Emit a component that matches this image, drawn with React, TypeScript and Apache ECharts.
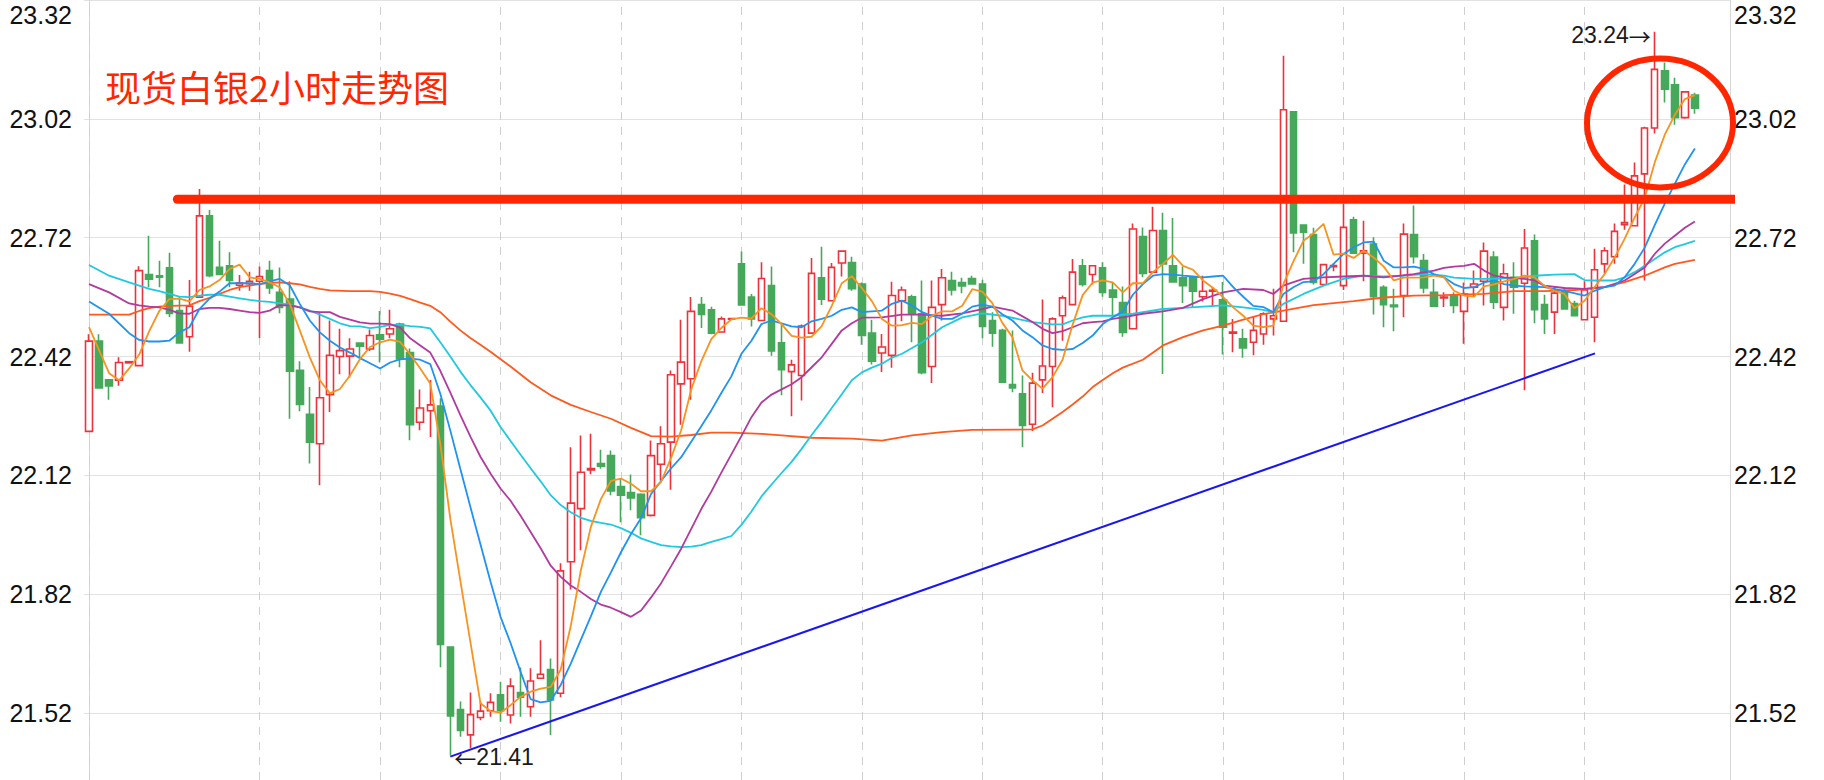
import React, { useEffect, useRef } from "react";
import * as echarts from "echarts";

// ---------- data ----------
const SLOTS = 164; // category slots on the x axis (last 3 empty)
const opens = [
  22.231, 22.459, 22.361, 22.36, 22.404, 22.397, 22.627, 22.624, 22.644, 22.536,
  22.47, 22.57, 22.775, 22.645, 22.649, 22.6, 22.604, 22.61, 22.637, 22.582,
  22.565, 22.385, 22.274, 22.2, 22.324, 22.42, 22.421, 22.454, 22.439, 22.475,
  22.477, 22.502, 22.43, 22.254, 22.283, 22.295, 21.687, 21.529, 21.465, 21.509,
  21.526, 21.566, 21.515, 21.572, 21.536, 21.608, 21.63, 21.57, 21.902, 22.036,
  22.134, 22.15, 22.17, 22.092, 22.077, 22.072, 22.019, 22.148, 22.204, 22.351,
  22.364, 22.551, 22.538, 22.482, 22.514, 22.654, 22.57, 22.511, 22.599, 22.455,
  22.382, 22.372, 22.479, 22.619, 22.561, 22.656, 22.657, 22.603, 22.479, 22.429,
  22.423, 22.561, 22.571, 22.528, 22.395, 22.551, 22.612, 22.607, 22.617, 22.603,
  22.511, 22.486, 22.349, 22.326, 22.249, 22.361, 22.395, 22.523, 22.551, 22.649,
  22.627, 22.644, 22.588, 22.556, 22.49, 22.723, 22.633, 22.738, 22.649, 22.619,
  22.62, 22.571, 22.585, 22.563, 22.479, 22.465, 22.456, 22.477, 22.515, 22.509,
  23.038, 22.752, 22.728, 22.602, 22.647, 22.599, 22.765, 22.681, 22.704, 22.595,
  22.55, 22.574, 22.728, 22.662, 22.582, 22.568, 22.576, 22.534, 22.595, 22.61,
  22.671, 22.544, 22.62, 22.605, 22.712, 22.551, 22.532, 22.586, 22.554, 22.513,
  22.519, 22.654, 22.672, 22.753, 22.75, 22.881, 22.997, 23.141, 23.106, 23.023,
  23.08,
];
const closes = [
  22.459, 22.341, 22.346, 22.405, 22.407, 22.637, 22.615, 22.62, 22.529, 22.454,
  22.547, 22.775, 22.624, 22.627, 22.612, 22.606, 22.61, 22.622, 22.593, 22.544,
  22.383, 22.299, 22.204, 22.316, 22.423, 22.435, 22.439, 22.446, 22.473, 22.464,
  22.49, 22.414, 22.248, 22.29, 22.298, 21.693, 21.513, 21.476, 21.516, 21.525,
  21.547, 21.526, 21.588, 21.56, 21.601, 21.618, 21.553, 21.879, 22.05, 22.128,
  22.137, 22.143, 22.081, 22.07, 22.063, 22.013, 22.17, 22.2, 22.374, 22.406,
  22.534, 22.526, 22.479, 22.515, 22.516, 22.55, 22.515, 22.617, 22.434, 22.387,
  22.399, 22.497, 22.63, 22.565, 22.645, 22.686, 22.591, 22.473, 22.408, 22.444,
  22.574, 22.588, 22.528, 22.379, 22.544, 22.619, 22.588, 22.598, 22.603, 22.496,
  22.479, 22.355, 22.341, 22.246, 22.353, 22.396, 22.515, 22.568, 22.633, 22.602,
  22.649, 22.582, 22.57, 22.481, 22.742, 22.63, 22.738, 22.654, 22.608, 22.599,
  22.585, 22.585, 22.587, 22.494, 22.482, 22.442, 22.486, 22.528, 22.523, 23.043,
  22.732, 22.734, 22.607, 22.652, 22.65, 22.746, 22.681, 22.687, 22.571, 22.551,
  22.546, 22.729, 22.672, 22.593, 22.547, 22.57, 22.549, 22.578, 22.603, 22.686,
  22.557, 22.629, 22.595, 22.694, 22.538, 22.515, 22.58, 22.54, 22.523, 22.588,
  22.639, 22.687, 22.736, 22.758, 22.876, 22.997, 23.145, 23.095, 23.023, 23.088,
  23.047,
];
const lows = [
  22.231, 22.341, 22.311, 22.346, 22.404, 22.397, 22.595, 22.595, 22.52, 22.454,
  22.432, 22.57, 22.62, 22.627, 22.595, 22.586, 22.586, 22.467, 22.578, 22.529,
  22.263, 22.282, 22.15, 22.095, 22.28, 22.375, 22.367, 22.416, 22.434, 22.405,
  22.466, 22.393, 22.209, 22.234, 22.217, 21.636, 21.413, 21.46, 21.431, 21.502,
  21.511, 21.498, 21.494, 21.511, 21.511, 21.606, 21.465, 21.56, 21.832, 21.931,
  22.123, 22.137, 22.07, 22.002, 22.032, 21.969, 22.016, 22.107, 22.084, 22.248,
  22.311, 22.492, 22.476, 22.48, 22.512, 22.55, 22.496, 22.511, 22.422, 22.322,
  22.269, 22.309, 22.479, 22.55, 22.561, 22.622, 22.586, 22.45, 22.4, 22.381,
  22.392, 22.509, 22.456, 22.375, 22.353, 22.511, 22.574, 22.58, 22.601, 22.466,
  22.445, 22.353, 22.33, 22.191, 22.232, 22.328, 22.292, 22.46, 22.551, 22.597,
  22.602, 22.571, 22.523, 22.47, 22.49, 22.62, 22.633, 22.376, 22.608, 22.555,
  22.545, 22.559, 22.545, 22.425, 22.431, 22.417, 22.423, 22.45, 22.473, 22.509,
  22.683, 22.654, 22.602, 22.599, 22.635, 22.588, 22.681, 22.61, 22.526, 22.494,
  22.484, 22.519, 22.655, 22.58, 22.547, 22.545, 22.529, 22.452, 22.57, 22.549,
  22.54, 22.511, 22.528, 22.335, 22.504, 22.477, 22.477, 22.538, 22.521, 22.513,
  22.456, 22.63, 22.654, 22.74, 22.75, 22.612, 22.983, 23.061, 23.005, 23.02,
  23.033,
];
const highs = [
  22.476, 22.476, 22.361, 22.418, 22.407, 22.648, 22.725, 22.662, 22.682, 22.57,
  22.613, 22.843, 22.79, 22.712, 22.683, 22.626, 22.634, 22.647, 22.662, 22.645,
  22.61, 22.408, 22.343, 22.532, 22.511, 22.49, 22.466, 22.454, 22.488, 22.535,
  22.538, 22.505, 22.44, 22.337, 22.361, 22.315, 21.687, 21.549, 21.572, 21.549,
  21.57, 21.599, 21.608, 21.635, 21.633, 21.704, 21.658, 21.898, 22.191, 22.221,
  22.225, 22.185, 22.183, 22.112, 22.122, 22.075, 22.208, 22.244, 22.385, 22.513,
  22.57, 22.57, 22.546, 22.521, 22.518, 22.685, 22.578, 22.658, 22.647, 22.503,
  22.412, 22.501, 22.669, 22.697, 22.656, 22.686, 22.672, 22.607, 22.513, 22.477,
  22.609, 22.597, 22.576, 22.612, 22.612, 22.641, 22.634, 22.619, 22.624, 22.614,
  22.532, 22.49, 22.486, 22.372, 22.379, 22.564, 22.519, 22.574, 22.666, 22.666,
  22.65, 22.658, 22.608, 22.597, 22.756, 22.746, 22.798, 22.783, 22.77, 22.647,
  22.62, 22.624, 22.595, 22.608, 22.515, 22.49, 22.521, 22.532, 22.591, 23.179,
  23.04, 22.752, 22.745, 22.654, 22.655, 22.805, 22.773, 22.763, 22.721, 22.6,
  22.591, 22.756, 22.801, 22.679, 22.616, 22.582, 22.582, 22.607, 22.637, 22.708,
  22.686, 22.654, 22.658, 22.742, 22.728, 22.576, 22.597, 22.595, 22.561, 22.61,
  22.692, 22.696, 22.756, 22.854, 22.91, 23.0, 23.24, 23.162, 23.124, 23.09,
  23.086,
];

// moving-average lines: [candle index, price]
const ma5 = [[0,22.494],[2,22.378],[3,22.36],[4,22.39],[5,22.425],[6,22.484],[7,22.535],[8,22.565],[9,22.566],[10,22.559],[11,22.588],[12,22.597],[13,22.613],[14,22.641],[15,22.652],[16,22.62],[17,22.616],[18,22.607],[19,22.595],[20,22.553],[21,22.486],[22,22.418],[23,22.36],[24,22.327],[25,22.338],[26,22.372],[27,22.414],[28,22.444],[29,22.456],[30,22.463],[31,22.457],[32,22.425],[33,22.39],[34,22.352],[35,22.2],[36,22.01],[37,21.854],[38,21.699],[39,21.545],[40,21.525],[41,21.521],[42,21.54],[43,21.561],[44,21.574],[45,21.582],[46,21.586],[47,21.63],[48,21.74],[49,21.88],[50,21.99],[51,22.06],[52,22.106],[53,22.112],[54,22.099],[55,22.08],[56,22.08],[57,22.104],[58,22.165],[59,22.234],[60,22.337],[61,22.408],[62,22.464],[63,22.492],[64,22.514],[65,22.518],[66,22.516],[67,22.542],[68,22.527],[69,22.502],[70,22.472],[71,22.468],[72,22.47],[73,22.497],[74,22.548],[75,22.605],[76,22.623],[77,22.593],[78,22.56],[79,22.515],[80,22.498],[81,22.499],[82,22.505],[83,22.502],[84,22.523],[85,22.534],[86,22.534],[87,22.548],[88,22.59],[89,22.584],[90,22.555],[91,22.505],[92,22.469],[93,22.385],[94,22.36],[95,22.339],[96,22.368],[97,22.412],[98,22.5],[99,22.575],[100,22.607],[101,22.612],[102,22.607],[103,22.582],[104,22.605],[105,22.605],[106,22.633],[107,22.654],[108,22.677],[109,22.649],[110,22.639],[111,22.612],[112,22.593],[113,22.57],[114,22.544],[115,22.523],[116,22.498],[117,22.494],[118,22.498],[119,22.603],[120,22.66],[121,22.712],[122,22.731],[123,22.755],[124,22.677],[125,22.68],[126,22.669],[127,22.687],[128,22.67],[129,22.647],[130,22.612],[131,22.619],[132,22.619],[133,22.62],[134,22.624],[135,22.62],[136,22.586],[137,22.574],[138,22.571],[139,22.597],[140,22.602],[141,22.61],[142,22.616],[143,22.624],[144,22.62],[145,22.599],[146,22.586],[147,22.578],[148,22.542],[149,22.561],[150,22.595],[151,22.628],[152,22.67],[153,22.717],[154,22.771],[155,22.82],[156,22.91],[157,22.98],[158,23.03],[159,23.07],[160,23.08]];
const ma10 = [[0,22.559],[2,22.528],[4,22.479],[5,22.462],[6,22.458],[7,22.458],[8,22.46],[9,22.481],[10,22.494],[11,22.54],[12,22.566],[13,22.584],[14,22.605],[15,22.605],[16,22.605],[17,22.603],[18,22.61],[19,22.616],[20,22.6],[21,22.553],[22,22.511],[23,22.481],[24,22.46],[25,22.443],[26,22.43],[27,22.416],[28,22.403],[29,22.39],[30,22.405],[31,22.413],[32,22.415],[33,22.412],[34,22.401],[35,22.326],[36,22.233],[37,22.136],[38,22.04],[39,21.946],[40,21.852],[41,21.763],[42,21.697],[43,21.624],[44,21.555],[45,21.547],[46,21.551],[47,21.591],[48,21.645],[49,21.705],[50,21.764],[51,21.826],[52,21.875],[53,21.926],[54,21.972],[55,22.012],[56,22.073],[57,22.106],[58,22.138],[59,22.166],[60,22.205],[61,22.244],[62,22.284],[63,22.328],[64,22.37],[65,22.427],[66,22.46],[67,22.502],[68,22.511],[69,22.504],[70,22.496],[71,22.494],[72,22.509],[73,22.515],[74,22.523],[75,22.538],[76,22.544],[77,22.532],[78,22.534],[79,22.536],[80,22.553],[81,22.561],[82,22.549],[83,22.532],[84,22.523],[85,22.515],[86,22.515],[87,22.528],[88,22.546],[89,22.551],[90,22.546],[91,22.527],[92,22.511],[93,22.486],[94,22.469],[95,22.448],[96,22.439],[97,22.437],[98,22.439],[99,22.454],[100,22.473],[101,22.502],[102,22.519],[103,22.534],[104,22.576],[105,22.603],[106,22.624],[107,22.628],[108,22.627],[109,22.624],[110,22.622],[111,22.62],[112,22.622],[113,22.624],[114,22.595],[115,22.571],[116,22.548],[117,22.545],[118,22.532],[119,22.578],[120,22.595],[121,22.608],[122,22.61],[123,22.628],[124,22.654],[125,22.679],[126,22.696],[127,22.708],[128,22.71],[129,22.662],[130,22.645],[131,22.645],[132,22.647],[133,22.641],[134,22.628],[135,22.62],[136,22.603],[137,22.593],[138,22.595],[139,22.607],[140,22.612],[141,22.603],[142,22.599],[143,22.597],[145,22.595],[147,22.586],[149,22.574],[150,22.586],[151,22.595],[152,22.599],[153,22.62],[154,22.654],[155,22.695],[156,22.752],[157,22.806],[158,22.856],[159,22.905],[160,22.945]];
const ma20 = [[0,22.603],[2,22.582],[4,22.554],[5,22.549],[6,22.546],[7,22.544],[8,22.538],[9,22.529],[10,22.528],[11,22.54],[12,22.543],[13,22.543],[14,22.54],[15,22.536],[16,22.532],[17,22.53],[18,22.536],[19,22.55],[20,22.549],[21,22.544],[22,22.534],[23,22.532],[24,22.532],[25,22.52],[26,22.513],[27,22.506],[28,22.503],[29,22.503],[30,22.502],[31,22.493],[32,22.466],[33,22.448],[34,22.43],[35,22.384],[36,22.329],[37,22.272],[38,22.218],[39,22.167],[40,22.125],[41,22.087],[42,22.056],[43,22.018],[44,21.977],[45,21.936],[46,21.892],[47,21.864],[48,21.842],[49,21.826],[50,21.808],[51,21.794],[52,21.786],[53,21.775],[54,21.763],[55,21.779],[56,21.812],[57,21.848],[58,21.891],[59,21.935],[60,21.985],[61,22.035],[62,22.079],[63,22.127],[64,22.173],[65,22.219],[66,22.267],[67,22.304],[68,22.324],[69,22.337],[70,22.35],[71,22.368],[72,22.393],[73,22.418],[74,22.452],[75,22.486],[76,22.504],[77,22.518],[79,22.519],[81,22.526],[83,22.526],[85,22.523],[87,22.529],[89,22.54],[90,22.546],[92,22.536],[94,22.507],[95,22.49],[96,22.479],[97,22.484],[98,22.494],[99,22.504],[100,22.507],[101,22.509],[102,22.515],[103,22.519],[105,22.528],[107,22.534],[109,22.543],[111,22.565],[113,22.582],[115,22.591],[117,22.588],[118,22.578],[119,22.599],[120,22.608],[121,22.616],[123,22.62],[125,22.622],[127,22.624],[129,22.62],[132,22.628],[134,22.637],[135,22.644],[136,22.647],[137,22.649],[138,22.654],[139,22.637],[140,22.624],[141,22.62],[143,22.616],[144,22.612],[145,22.599],[147,22.593],[149,22.591],[151,22.595],[153,22.612],[155,22.645],[156,22.679],[157,22.705],[158,22.725],[159,22.745],[160,22.761]];
const ma30 = [[0,22.651],[2,22.624],[4,22.607],[5,22.599],[6,22.591],[7,22.585],[8,22.578],[9,22.571],[10,22.57],[11,22.574],[12,22.576],[13,22.576],[14,22.571],[15,22.567],[16,22.563],[17,22.56],[18,22.558],[19,22.554],[20,22.551],[21,22.544],[22,22.536],[23,22.526],[24,22.515],[25,22.504],[26,22.497],[27,22.496],[28,22.492],[29,22.495],[30,22.5],[31,22.5],[32,22.497],[33,22.495],[34,22.491],[35,22.456],[36,22.42],[37,22.382],[38,22.348],[39,22.317],[40,22.284],[41,22.242],[42,22.207],[43,22.172],[44,22.138],[45,22.105],[46,22.07],[47,22.045],[48,22.027],[49,22.013],[50,22.005],[51,22.0],[52,21.996],[53,21.987],[54,21.975],[55,21.961],[56,21.952],[57,21.944],[58,21.941],[59,21.939],[60,21.94],[61,21.944],[62,21.952],[63,21.959],[64,21.967],[65,21.995],[66,22.029],[67,22.067],[68,22.097],[69,22.126],[70,22.154],[71,22.187],[72,22.222],[73,22.255],[74,22.29],[75,22.325],[76,22.36],[77,22.38],[78,22.392],[79,22.402],[80,22.417],[81,22.427],[83,22.456],[85,22.494],[87,22.519],[89,22.529],[91,22.523],[94,22.507],[96,22.501],[97,22.501],[98,22.511],[99,22.519],[100,22.523],[102,22.523],[104,22.528],[105,22.532],[107,22.54],[109,22.543],[111,22.546],[113,22.549],[115,22.544],[117,22.538],[118,22.532],[119,22.553],[121,22.578],[123,22.599],[125,22.616],[127,22.624],[129,22.622],[131,22.624],[133,22.628],[135,22.624],[136,22.619],[138,22.616],[140,22.616],[143,22.62],[144,22.624],[146,22.627],[148,22.628],[149,22.613],[150,22.612],[152,22.612],[153,22.62],[154,22.633],[155,22.649],[156,22.666],[157,22.683],[158,22.696],[159,22.704],[160,22.712]];
const ma60 = [[0,22.526],[4,22.526],[5,22.535],[6,22.542],[7,22.546],[8,22.548],[10,22.549],[11,22.56],[12,22.568],[13,22.578],[14,22.588],[15,22.595],[16,22.599],[17,22.603],[18,22.606],[19,22.607],[20,22.605],[21,22.602],[22,22.596],[23,22.591],[24,22.587],[26,22.585],[28,22.585],[29,22.583],[30,22.579],[31,22.573],[32,22.565],[33,22.556],[34,22.548],[35,22.532],[36,22.508],[37,22.486],[38,22.467],[39,22.45],[40,22.432],[42,22.395],[44,22.355],[46,22.322],[48,22.298],[50,22.28],[52,22.263],[54,22.24],[56,22.219],[58,22.218],[60,22.222],[62,22.228],[64,22.228],[67,22.225],[69,22.221],[72,22.215],[76,22.213],[79,22.208],[82,22.221],[85,22.229],[88,22.235],[94,22.236],[95,22.246],[96,22.263],[97,22.28],[98,22.299],[99,22.319],[100,22.343],[101,22.361],[102,22.378],[103,22.392],[105,22.412],[107,22.448],[109,22.469],[111,22.486],[113,22.498],[115,22.513],[117,22.527],[119,22.536],[122,22.55],[126,22.56],[129,22.569],[132,22.574],[135,22.575],[139,22.578],[142,22.585],[145,22.585],[148,22.588],[151,22.595],[153,22.608],[155,22.624],[157,22.645],[158,22.654],[160,22.664]];

const yTicks = [21.52, 21.82, 22.12, 22.42, 22.72, 23.02, 23.32];
const dayStarts = [0, 17, 29, 41, 53, 65, 77, 89, 101, 113, 125, 137, 149];
const resistance = { from: 8.8, to: 164.1, value: 22.817 };
const trendLine = [[36, 21.41], [150.05, 22.428]];
const highMark = { idx: 156, value: 23.24 };
const lowMark = { idx: 36, value: 21.41 };
const titleText = "现货白银2小时走势图";

// ---------- layout / style ----------
const Y_MAX = 23.32;
const Y_MIN = 21.3511;
const FONT = '"Liberation Sans", Arial, Helvetica, sans-serif';
const CJK = '"Noto Sans CJK SC", sans-serif';
const RED = "#e8343a";
const GREEN = "#46a85a";
const ANNO = "#ff2600";

export default function App() {
  const ref = useRef<HTMLDivElement>(null);

  useEffect(() => {
    if (!ref.current) return;
    const chart = echarts.init(ref.current, undefined, { renderer: "svg" });
    const cats = Array.from({ length: SLOTS }, (_, i) => String(i));
    const candleData = opens.map((o, i) => [o, closes[i], lows[i], highs[i]]);

    const labelFmt = (v: number) =>
      v >= Y_MAX - 1e-6 ? `{top|${v.toFixed(2)}}` : v.toFixed(2);
    const labelBase = {
      customValues: yTicks,
      formatter: labelFmt,
      color: "#111",
      fontSize: 25,
      fontFamily: FONT,
      rich: { top: { padding: [30, 0, 0, 0], color: "#111", fontSize: 25, fontFamily: FONT } },
    };

    const markRich = {
      n: { color: "#1a1a1a", fontSize: 23, fontFamily: FONT },
      arr: { color: "#1a1a1a", fontSize: 22, fontFamily: CJK },
    };

    const maLine = (data: number[][], color: string, name: string) => ({
      name,
      type: "line",
      xAxisIndex: 1,
      yAxisIndex: 0,
      data,
      showSymbol: false,
      symbol: "none",
      silent: true,
      z: 4,
      lineStyle: { color, width: 1.8 },
    });

    const option: any = {
      animation: false,
      backgroundColor: "#ffffff",
      grid: { left: 84, right: 94, top: -1, bottom: 0 },
      xAxis: [
        { type: "category", data: cats, boundaryGap: true, show: false },
        { type: "value", min: -0.5, max: SLOTS - 0.5, show: false },
      ],
      yAxis: [
        {
          type: "value",
          position: "left",
          min: Y_MIN,
          max: Y_MAX,
          axisLine: { show: true, lineStyle: { color: "#d6d6d6" } },
          axisTick: { show: false, customValues: yTicks },
          axisLabel: { ...labelBase, margin: 12 },
          splitLine: { show: true, lineStyle: { color: "#e2e2e2", width: 1 } },
        },
        {
          type: "value",
          position: "right",
          min: Y_MIN,
          max: Y_MAX,
          axisLine: { show: true, lineStyle: { color: "#d6d6d6" } },
          axisTick: { show: false, customValues: yTicks },
          axisLabel: { ...labelBase, margin: 4 },
          splitLine: { show: false },
        },
      ],
      graphic: [
        {
          type: "text",
          left: 105,
          top: 68,
          z: 100,
          style: {
            text: titleText,
            fill: ANNO,
            fontSize: 36,
            fontFamily: CJK,
          },
        },
        {
          type: "ellipse",
          z: 100,
          shape: { cx: 1660, cy: 123, rx: 73, ry: 64.5 },
          style: { fill: "none", stroke: ANNO, lineWidth: 6 },
        },
      ],
      series: [
        {
          type: "lines",
          coordinateSystem: "cartesian2d",
          xAxisIndex: 1,
          yAxisIndex: 0,
          silent: true,
          z: 1,
          lineStyle: { color: "#cfcfcf", width: 1, type: [8, 7], opacity: 1 },
          data: dayStarts.map((i) => ({ coords: [[i, Y_MIN], [i, Y_MAX]] })),
        },
        {
          type: "candlestick",
          xAxisIndex: 0,
          yAxisIndex: 0,
          data: candleData,
          barWidth: 7,
          z: 3,
          silent: true,
          itemStyle: {
            color: "#ffffff",
            color0: GREEN,
            borderColor: RED,
            borderColor0: GREEN,
            borderWidth: 1.6,
          },
          markPoint: {
            symbol: "circle",
            symbolSize: 0,
            silent: true,
            label: { color: "#1a1a1a", fontSize: 23, fontFamily: FONT, rich: markRich },
            data: [
              {
                coord: [highMark.idx, highMark.value],
                label: {
                  formatter: `{n|${highMark.value.toFixed(2)}}{arr|→}`,
                  position: "left",
                  distance: 4,
                  offset: [0, 3],
                  rich: markRich,
                },
              },
              {
                coord: [lowMark.idx, lowMark.value],
                label: {
                  formatter: `{arr|←}{n|${lowMark.value.toFixed(2)}}`,
                  position: "right",
                  distance: 4,
                  rich: markRich,
                },
              },
            ],
          },
        },
        maLine(ma60, "#ff5a1e", "MA60"),
        maLine(ma30, "#1fc9e0", "MA30"),
        maLine(ma20, "#b23a9f", "MA20"),
        maLine(ma10, "#1f93f2", "MA10"),
        maLine(ma5, "#f7931e", "MA5"),
        {
          type: "line",
          xAxisIndex: 1,
          yAxisIndex: 0,
          data: trendLine,
          showSymbol: false,
          symbol: "none",
          silent: true,
          z: 5,
          lineStyle: { color: "#1818ee", width: 2 },
        },
        {
          type: "line",
          xAxisIndex: 1,
          yAxisIndex: 0,
          data: [
            [resistance.from, resistance.value],
            [resistance.to, resistance.value],
          ],
          showSymbol: false,
          symbol: "none",
          silent: true,
          clip: false,
          z: 6,
          lineStyle: { color: ANNO, width: 9, cap: "round" },
        },
      ],
    };

    chart.setOption(option);
    return () => chart.dispose();
  }, []);

  return (
    <div
      ref={ref}
      style={{ position: "absolute", left: 0, top: 0, width: 1824, height: 780, background: "#fff" }}
    />
  );
}
